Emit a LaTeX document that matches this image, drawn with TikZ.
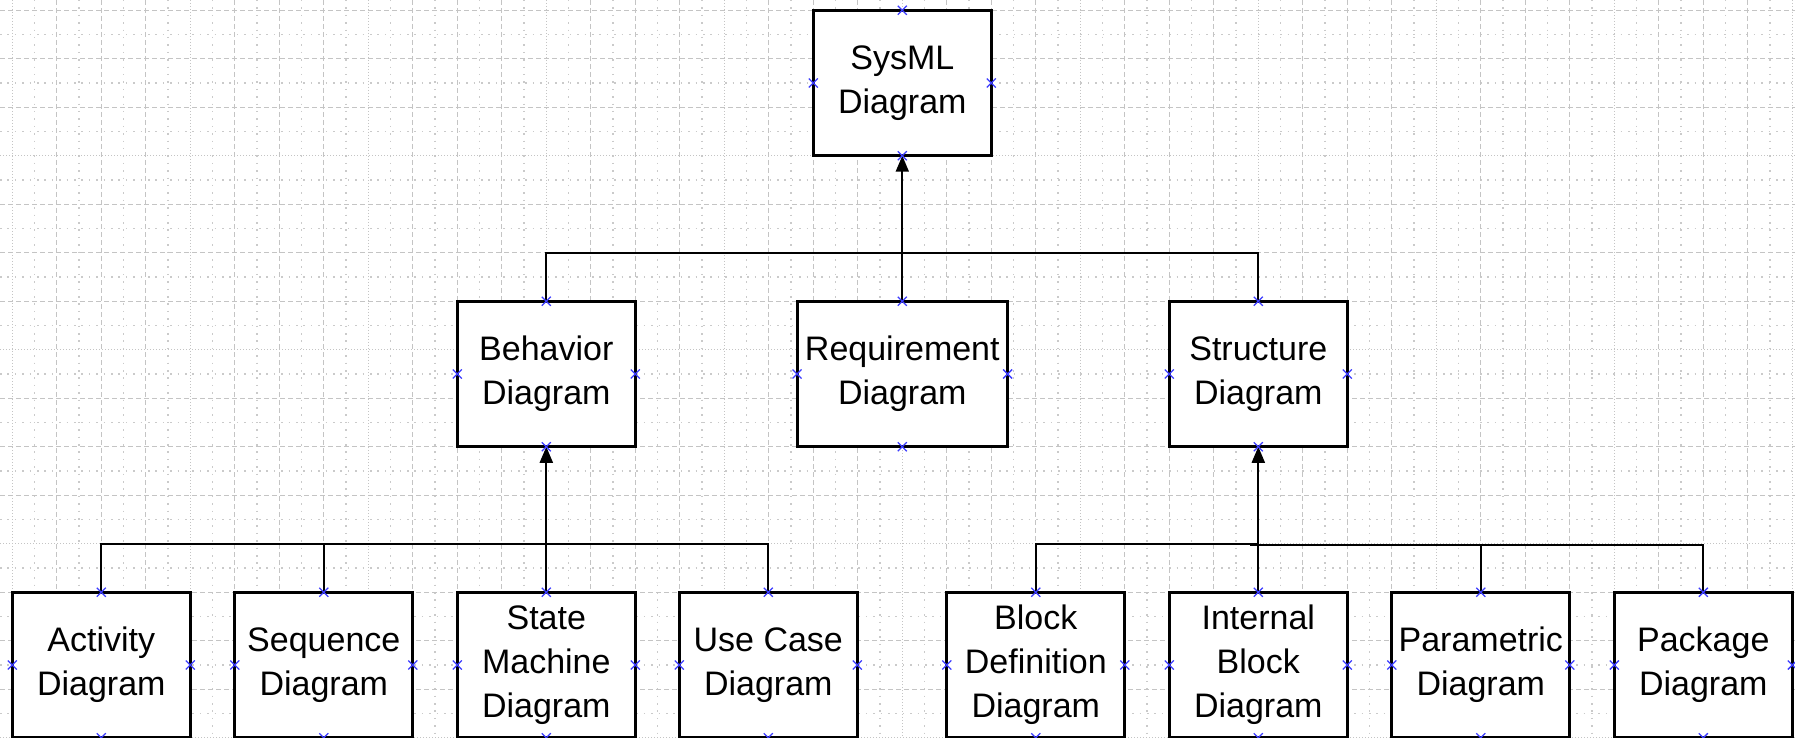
\documentclass[tikz,border=0pt]{standalone}
\usepackage{fontspec}
\setmainfont{Liberation Sans}
\usetikzlibrary{arrows.meta}
\definecolor{gridgray}{HTML}{C4C4C4}
\definecolor{minorgray}{HTML}{CACACA}
\definecolor{markblue}{HTML}{3C3CFF}
\begin{document}
\begin{tikzpicture}[x=1pt,y=-1pt,
  box/.style={draw=black, line width=3pt, fill=white, minimum width=178pt,
    minimum height=145.5pt, inner sep=0pt, outer sep=0pt, align=center,
    font=\fontsize{34}{44}\selectfont, text=black},
  conn/.style={draw=black, line width=2pt},
  gen/.style={conn, -{Triangle[length=16pt,width=13pt]}},
  majdash/.style={draw=gridgray, line width=1.3pt, dash pattern=on 5pt off 3pt},
  majdot/.style={draw=gridgray, line width=1.3pt, dash pattern=on 1.3pt off 1.7pt},
  mindot/.style={draw=minorgray, line width=1.5pt, dash pattern=on 1.5pt off 5.9pt},
  xmarker/.style={draw=markblue, line width=1.3pt}
]
\useasboundingbox (0,0) rectangle (1795,738);
\fill[white] (0,0) rectangle (1795,738);

% background grid: sparse dotted half-lines, dashed lines, every fourth line dotted
\begin{scope}
  \clip (0,0) rectangle (1795,738);
  \foreach \k in {0,...,39} \draw[mindot] ({34.55+44.5*\k},0) -- ++(0,738);
  \foreach \k in {-1,...,15} \draw[mindot] (0,{34.45+48.5*\k}) -- ++(1795,0);
  \foreach \k in {0,...,40} {
    \pgfmathtruncatemacro\m{mod(\k,4)}
    \ifnum\m=0 \draw[majdot] ({12.3+44.5*\k},0) -- ++(0,738);
    \else \draw[majdash] ({12.3+44.5*\k},0) -- ++(0,738); \fi
  }
  \foreach \k in {0,...,15} {
    \pgfmathtruncatemacro\m{mod(\k,4)}
    \ifnum\m=3 \draw[majdot] (0,{10.2+48.5*\k}) -- ++(1795,0);
    \else \draw[majdash] (0,{10.2+48.5*\k}) -- ++(1795,0); \fi
  }
\end{scope}

% diagram kinds
\node[box] (sysml) at (902.3,83) {SysML\\Diagram};

\node[box] (behav) at (546.3,374) {Behavior\\Diagram};
\node[box, minimum width=210.6pt] (req) at (902.3,374) {Requirement\\Diagram};
\node[box] (struct) at (1258.3,374) {Structure\\Diagram};

\node[box] (act) at (101.3,665) {Activity\\Diagram};
\node[box] (seq) at (323.8,665) {Sequence\\Diagram};
\node[box] (stm) at (546.3,665) {State\\Machine\\Diagram};
\node[box] (uc) at (768.3,665) {Use Case\\Diagram};
\node[box] (bdd) at (1035.8,665) {Block\\Definition\\Diagram};
\node[box] (ibd) at (1258.3,665) {Internal\\Block\\Diagram};
\node[box] (par) at (1480.8,665) {Parametric\\Diagram};
\node[box] (pkg) at (1703.3,665) {Package\\Diagram};

% generalization trees
\coordinate (topbus) at (0,252.7);
\coordinate (lowbus) at (0,543.7);
\coordinate (lowjoin) at (1250,545.2);

\draw[conn] (behav.north) |- (topbus -| struct.north) -- (struct.north);
\draw[gen] (req.north) -- (sysml.south);

\draw[conn] (act.north) |- (lowbus -| uc.north) -- (uc.north);
\draw[conn] (seq.north) -- (seq.north |- lowbus);
\draw[gen] (stm.north) -- (behav.south);

\draw[conn] (bdd.north) |- (lowbus -| ibd.north);
\draw[conn] (par.north) |- (lowjoin);
\draw[conn] (pkg.north) |- (lowjoin);
\draw[gen] (ibd.north) -- (struct.south);

% connection point markers
\foreach \n in {sysml,behav,req,struct,act,seq,stm,uc,bdd,ibd,par,pkg}
  \foreach \a in {north,south,east,west}
    \draw[xmarker] (\n.\a) ++(-4.5,-4.5) -- ++(9,9) (\n.\a) ++(-4.5,4.5) -- ++(9,-9);
\end{tikzpicture}
\end{document}
